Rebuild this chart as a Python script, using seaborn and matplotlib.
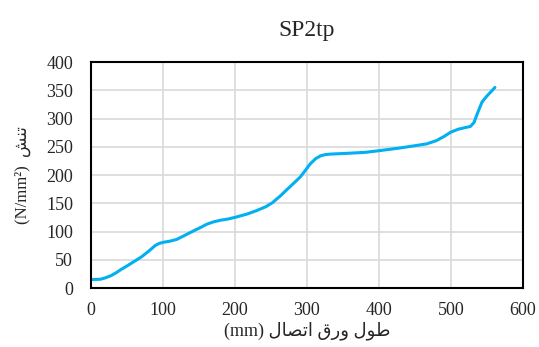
import pandas as pd
import seaborn as sns
import matplotlib.pyplot as plt

# connection plate length (mm) and stress (N/mm2)
length_mm = [0, 13, 20, 28, 35, 42, 50, 60, 70, 80, 89, 95, 101, 110, 119, 130, 143, 152,
             161, 170, 180, 190, 200, 217, 230, 243, 252, 263, 272, 282, 291, 300, 304,
             312, 319, 325, 332, 350, 380, 400, 430, 466, 480, 490, 500, 510, 520, 527,
             532, 537, 543, 550, 556, 561]
stress = [15, 15.5, 18, 22, 27, 33, 39, 47, 55, 65, 75, 79, 81, 83, 86, 93, 101.5, 107,
          113, 117, 120, 122, 125, 131, 137, 144, 151, 163, 174, 186, 197, 212, 219,
          229, 234, 236, 237, 238, 240, 243, 248, 255, 261, 268, 276, 281, 284, 286,
          293, 310, 329, 340, 348, 355]

x_ticks = [0, 100, 200, 300, 400, 500, 600]
y_ticks = [0, 50, 100, 150, 200, 250, 300, 350, 400]

df = pd.DataFrame({"length": length_mm, "stress": stress})

# Arabic labels written in visual order with presentation forms (no shaping in matplotlib)
x_label = "(mm) " + "\uFEDD\uFE8E\uFEBC\uFE97\uFE8D" + " " + "\uFED5\uFEAD\uFEED" + " " + "\uFEDD\uFEEE\uFEC3"
y_label = "(N/mm\u00b2)  " + "\uFEB6\uFEE8\uFE97"

sns.set_style("white")
plt.rcParams['font.family'] = ['Liberation Serif', 'DejaVu Sans']

fig = plt.figure(figsize=(5.39, 3.47), dpi=100)
ax = fig.add_axes([0.1688, 0.170, 0.8015, 0.6513])

sns.lineplot(data=df, x="length", y="stress", color="#00B0F0", linewidth=2.2, ax=ax)

ax.set_xlim(0, 600)
ax.set_ylim(0, 400)
ax.set_xticks(x_ticks)
ax.set_yticks(y_ticks)
ax.tick_params(labelsize=13, length=0)
ax.tick_params(axis="y", pad=13)
ax.tick_params(axis="x", pad=10)
ax.grid(True, color="#D9D9D9", linewidth=1.2)
ax.set_axisbelow(True)
for s in ax.spines.values():
    s.set_color("black")
    s.set_linewidth(1.5)

ax.set_title("SP2tp", fontsize=17, pad=19)
ax.set_xlabel(x_label, fontsize=13, labelpad=2)
ax.set_ylabel(y_label, fontsize=12, labelpad=11)

fig.savefig("out.png", dpi=100)
